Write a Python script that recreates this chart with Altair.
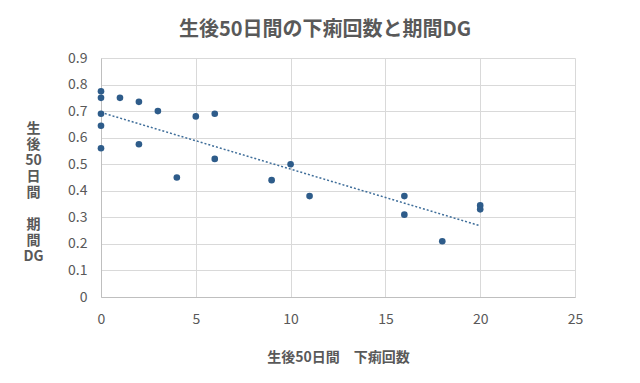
import altair as alt
import pandas as pd

# 生後50日間 下痢回数 vs 期間DG
diarrhea_count = [0, 0, 0, 0, 0, 1, 2, 2, 3, 4, 5, 6, 6, 9, 10, 11, 16, 16, 18, 20, 20]
period_dg = [0.775, 0.75, 0.69, 0.645, 0.56, 0.75, 0.735, 0.575, 0.70, 0.45, 0.68,
             0.69, 0.52, 0.44, 0.50, 0.38, 0.38, 0.31, 0.21, 0.345, 0.33]

x_ticks = [0, 5, 10, 15, 20, 25]
y_ticks = [0, 0.1, 0.2, 0.3, 0.4, 0.5, 0.6, 0.7, 0.8, 0.9]

df = pd.DataFrame({"x": diarrhea_count, "y": period_dg})

FONT = "Noto Sans CJK JP"
GREY = "#595959"
BLUE = "#2E5C8A"

x_enc = alt.X("x:Q",
              scale=alt.Scale(domain=[0, 25], nice=False, zero=True),
              axis=alt.Axis(values=x_ticks, title="生後50日間　下痢回数",
                            grid=True, ticks=False, labelPadding=15,
                            labelOverlap=False, labelFlush=False, titlePadding=24))
y_enc = alt.Y("y:Q",
              scale=alt.Scale(domain=[0, 0.9], nice=False),
              axis=alt.Axis(values=y_ticks, labelOverlap=False, labelFlush=False,
                            labelExpr="datum.value == 0 ? '0' : format(datum.value, '.1f')",
                            title=["生", "後", "50", "日", "間", "\u200b", "期", "間", "DG"],
                            titleAngle=0, titleAlign="center", titleBaseline="top",
                            titleX=-68, titleY=63, titleLineHeight=16,
                            grid=True, ticks=False, labelPadding=14))

points = alt.Chart(df).mark_circle(size=44, color=BLUE, opacity=1).encode(x=x_enc, y=y_enc)

trend = alt.Chart(df).transform_regression("x", "y", method="linear").mark_line(
    color="#3F6E9A", strokeDash=[2, 2], strokeWidth=1.5
).encode(x=x_enc, y=y_enc)

chart = alt.layer(trend, points).properties(
    width=474, height=239,
    autosize=alt.AutoSizeParams(type="none"),
    padding={"left": 93, "top": 50, "right": 50, "bottom": 75},
    title=alt.TitleParams("生後50日間の下痢回数と期間DG", fontSize=20, font=FONT,
                          fontWeight="bold", color=GREY, offset=11, dx=-13),
).configure_axis(
    labelFont=FONT, labelFontSize=14, labelColor=GREY,
    titleFont=FONT, titleFontSize=14, titleFontWeight="bold", titleColor=GREY,
    gridColor="#d9d9d9", domainColor="#bfbfbf", gridWidth=1,
).configure_view(stroke=None)

chart.save("out.html", embed_options={"renderer": "svg", "actions": False})
